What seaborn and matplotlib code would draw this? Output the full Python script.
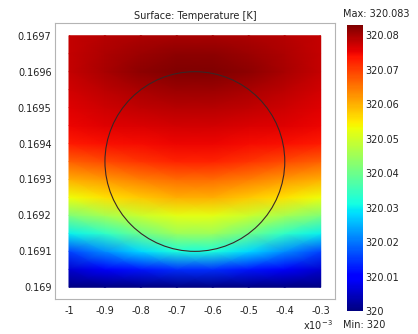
import numpy as np
import matplotlib
matplotlib.use("Agg")
import matplotlib.pyplot as plt
import seaborn as sns
from matplotlib.patches import Circle
from matplotlib.ticker import FuncFormatter

# ---------------- data ----------------
# x positions of the sampled columns (units of 1e-3 m)
x_mm = [-1.0, -0.9, -0.8, -0.7, -0.6, -0.5, -0.4, -0.3]
# y positions of the sampled rows (m)
y_m = [0.16900, 0.16905, 0.16910, 0.16915, 0.16920, 0.16925, 0.16930, 0.16935,
       0.16940, 0.16945, 0.16950, 0.16955, 0.16960, 0.16965, 0.16970]
# temperature above 320 K, in mK, one row per y value (bottom -> top)
dT_mK = [
    [0.0, 0.0, 0.0, 0.0, 0.0, 0.0, 0.0, 0.0],
    [6.0, 9.0, 12.0, 14.0, 14.0, 12.0, 9.0, 6.0],
    [16.0, 22.0, 28.0, 32.0, 32.0, 28.0, 22.0, 16.0],
    [30.0, 34.0, 40.0, 45.0, 45.0, 40.0, 34.0, 30.0],
    [42.0, 46.0, 49.5, 52.0, 52.0, 49.5, 46.0, 42.0],
    [53.0, 55.5, 58.0, 60.0, 60.0, 58.0, 55.5, 53.0],
    [60.0, 62.0, 64.5, 66.0, 66.0, 64.5, 62.0, 60.0],
    [67.0, 69.0, 71.0, 72.5, 72.5, 71.0, 69.0, 67.0],
    [73.0, 74.0, 74.5, 75.0, 75.0, 74.5, 74.0, 73.0],
    [75.0, 76.0, 76.5, 77.0, 77.0, 76.5, 76.0, 75.0],
    [76.0, 77.3, 78.3, 79.0, 79.0, 78.3, 77.3, 76.0],
    [77.0, 78.7, 80.0, 81.0, 81.0, 80.0, 78.7, 77.0],
    [78.0, 80.0, 82.0, 83.0, 83.0, 82.0, 80.0, 78.0],
    [78.0, 79.7, 81.0, 82.0, 82.0, 81.0, 79.7, 78.0],
    [78.0, 79.0, 79.5, 80.0, 80.0, 79.5, 79.0, 78.0],
]
T_MIN = 320.0
T_MAX = 320.083

# circle boundary (subdomain)
circle_center_mm = -0.65
circle_center_y = 0.16935
circle_radius_mm = 0.25

x_ticks_mm = [-1.0, -0.9, -0.8, -0.7, -0.6, -0.5, -0.4, -0.3]
y_ticks = [0.1690, 0.1691, 0.1692, 0.1693, 0.1694, 0.1695, 0.1696, 0.1697]
cbar_ticks = [320.0, 320.01, 320.02, 320.03, 320.04, 320.05, 320.06, 320.07, 320.08]

title = "Surface: Temperature [K]"

# ---------------- style ----------------
sns.set_theme(style="white")
plt.rcParams["font.family"] = ["DejaVu Sans"]
plt.rcParams["axes.unicode_minus"] = False
FS = 7
TXT = "#222222"

fig = plt.figure(figsize=(4.18, 3.34), dpi=100)
fig.patch.set_facecolor("white")
ax = fig.add_axes([55 / 418, 1 - 299 / 334, 280 / 418, 276 / 334])

X, Y = np.meshgrid(np.array(x_mm) * 1e-3, np.array(y_m))
T = T_MIN + np.array(dT_mK) / 1000.0
cmap = matplotlib.colormaps["jet"]
mesh = ax.pcolormesh(X, Y, T, shading="gouraud", cmap=cmap,
                     vmin=T_MIN, vmax=T_MAX, rasterized=True)

ax.add_patch(Circle((circle_center_mm * 1e-3, circle_center_y),
                    circle_radius_mm * 1e-3, fill=False,
                    edgecolor="#3a2626", linewidth=0.8))

ax.set_xlim(-1.0389e-3, -0.2603e-3)
ax.set_ylim(0.1689674, 0.1697354)
ax.set_xticks(np.array(x_ticks_mm) * 1e-3)
ax.set_yticks(y_ticks)
ax.xaxis.set_major_formatter(FuncFormatter(lambda v, p: "%g" % round(v * 1e3, 3)))
ax.yaxis.set_major_formatter(FuncFormatter(lambda v, p: "%g" % round(v, 5)))
ax.tick_params(axis="x", length=0, pad=5, labelsize=FS, labelcolor=TXT)
ax.tick_params(axis="y", length=0, pad=2.5, labelsize=FS, labelcolor=TXT)
for s in ax.spines.values():
    s.set_color("#b4b4b4")
    s.set_linewidth(0.8)
ax.grid(False)
ax.set_title(title, fontsize=FS, color=TXT, pad=3)

fig.text(333 / 418, 1 - 325 / 334, "x10$^{-3}$", ha="right", va="center",
         fontsize=FS, color=TXT)

# colorbar
cax = fig.add_axes([347 / 418, 1 - 311 / 334, 16 / 418, 286 / 334])
cb = fig.colorbar(mesh, cax=cax, ticks=cbar_ticks)
cb.outline.set_visible(False)
cb.ax.yaxis.set_major_formatter(FuncFormatter(lambda v, p: "%g" % round(v, 3)))
cb.ax.tick_params(length=0, pad=1.5, labelsize=FS, labelcolor=TXT)

fig.text(343 / 418, 1 - 14 / 334, "Max: %g" % T_MAX, ha="left", va="center",
         fontsize=FS, color=TXT)
fig.text(343 / 418, 1 - 325 / 334, "Min: %g" % T_MIN, ha="left", va="center",
         fontsize=FS, color=TXT)

fig.savefig("out.png", dpi=100, facecolor="white")
